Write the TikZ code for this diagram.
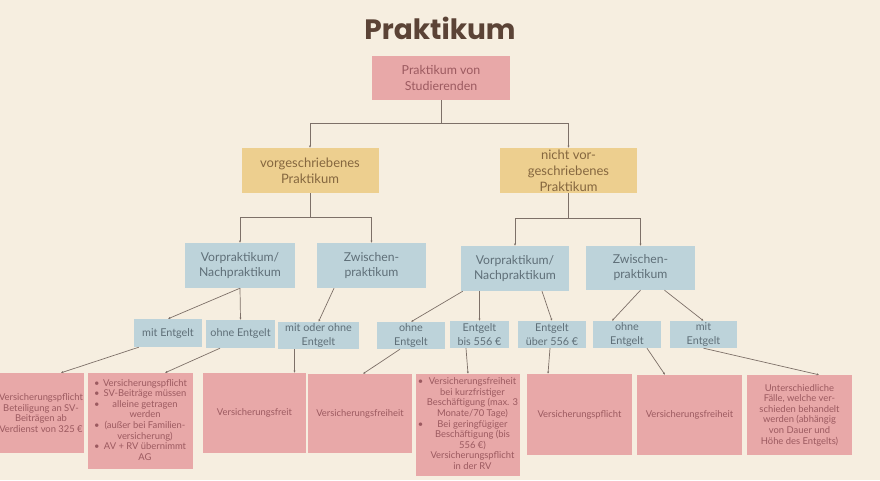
\documentclass[tikz,border=0pt]{standalone}
\usepackage{fontspec}
\setmainfont{Lato}
\newfontfamily\titelfont{Poppins}
\usetikzlibrary{arrows.meta,calc}
\definecolor{creme}{HTML}{F6EEE0}
\definecolor{titelbraun}{HTML}{5B4336}
\definecolor{rosa}{HTML}{E8A8A8}
\definecolor{rosatext}{HTML}{9C5A60}
\definecolor{gelb}{HTML}{EDCF8F}
\definecolor{gelbtext}{HTML}{85673F}
\definecolor{blau}{HTML}{BDD3DA}
\definecolor{blautext}{HTML}{5F6F78}
\definecolor{linie}{HTML}{7D7068}

\tikzset{
  kasten/.style={rectangle,inner sep=1pt,align=center},
  wurzel/.style={kasten,fill=rosa,text=rosatext,font=\fontsize{12.4}{16}\selectfont},
  gelbbox/.style={kasten,fill=gelb,text=gelbtext,font=\fontsize{13}{16}\selectfont},
  blaubox/.style={kasten,fill=blau,text=blautext,font=\fontsize{12.2}{15}\selectfont},
  kleinbox/.style={kasten,fill=blau,text=blautext,font=\fontsize{10.8}{14}\selectfont},
  pinkbox/.style={kasten,fill=rosa,text=rosatext,font=\fontsize{9.4}{10.6}\selectfont},
  verb/.style={draw=linie,line width=0.7pt,-{Latex[length=2.2pt,width=2.2pt]}}
}
\newcommand{\punkt}{\textbullet}

\begin{document}
\begin{tikzpicture}[x=1pt,y=-1pt]
  \fill[creme] (0,0) rectangle (880,480);
  \useasboundingbox (0,0) rectangle (880,480);

  \node[text=titelbraun,font=\titelfont\bfseries\fontsize{28}{30}\selectfont] (titel) at (440,28) {Praktikum};

  % Ebene 0 und 1
  \node[wurzel,minimum width=138pt,minimum height=44pt] (wurzel) at (441,78) {Praktikum von\\Studierenden};
  \node[gelbbox,minimum width=137pt,minimum height=45pt] (vorg) at (310,170.5) {vorgeschriebenes\\Praktikum};
  \node[gelbbox,minimum width=137pt,minimum height=45pt] (nvorg) at (568.5,170.5) {nicht vor-\\geschriebenes\\Praktikum};

  % Ebene 2
  \node[blaubox,minimum width=110pt,minimum height=45pt] (vnL) at (240,265.5) {Vorpraktikum/\\Nachpraktikum};
  \node[blaubox,minimum width=109pt,minimum height=45pt] (zwL) at (371.5,265.5) {Zwischen-\\praktikum};
  \node[blaubox,minimum width=108pt,minimum height=45pt] (vnR) at (515,268.5) {Vorpraktikum/\\Nachpraktikum};
  \node[blaubox,minimum width=109pt,minimum height=44pt] (zwR) at (640.5,268) {Zwischen-\\praktikum};

  % Ebene 3
  \node[kleinbox,minimum width=68pt,minimum height=28pt] (mitA) at (168,333) {mit Entgelt};
  \node[kleinbox,minimum width=69pt,minimum height=28pt] (ohneA) at (240.5,334) {ohne Entgelt};
  \node[kleinbox,minimum width=81pt,minimum height=27pt] (mitohne) at (318.5,335.5) {mit oder ohne\\Entgelt};
  \node[kleinbox,minimum width=68pt,minimum height=27pt] (ohneB) at (411,335.5) {ohne\\Entgelt};
  \node[kleinbox,minimum width=59pt,minimum height=27pt] (bis) at (479.5,334.5) {Entgelt\\bis 556 €};
  \node[kleinbox,minimum width=68pt,minimum height=27pt] (ueber) at (552,334.5) {Entgelt\\über 556 €};
  \node[kleinbox,minimum width=68pt,minimum height=27pt] (ohneC) at (627,334.5) {ohne\\Entgelt};
  \node[kleinbox,minimum width=67pt,minimum height=27pt] (mitC) at (703.5,334.5) {mit\\Entgelt};

  % Ebene 4
  \node[pinkbox,minimum width=86pt,minimum height=80pt] (fall1) at (41,413)
       {Versicherungspflicht\\Beteiligung an SV-\\Beiträgen ab\\Verdienst von 325 €};
  \node[pinkbox,minimum width=105pt,minimum height=96pt] (fall2) at (140.5,421)
       {\begin{tabular}{@{}p{9pt}@{}c@{}}
        \punkt & Versicherungspflicht\\
        \punkt & SV-Beiträge müssen\\
        \punkt & alleine getragen\\
               & werden\\
        \punkt & (außer bei Familien-\\
               & versicherung)\\
        \punkt & AV + RV übernimmt\\
               & AG
        \end{tabular}};
  \node[pinkbox,minimum width=103pt,minimum height=80pt] (fall3) at (254.5,413) {Versicherungsfreit};
  \node[pinkbox,minimum width=104pt,minimum height=79pt] (fall4) at (360,413.5) {Versicherungsfreiheit};
  \node[pinkbox,minimum width=104pt,minimum height=102pt] (fall5) at (468,425)
       {\begin{tabular}{@{}p{9pt}@{}c@{}}
        \punkt & Versicherungsfreiheit\\
               & bei kurzfristiger\\
               & Beschäftigung (max. 3\\
               & Monate/70 Tage)\\
        \punkt & Bei geringfügiger\\
               & Beschäftigung (bis\\
               & 556 €)\\
               & Versicherungspflicht\\
               & in der RV
        \end{tabular}};
  \node[pinkbox,minimum width=105pt,minimum height=81pt] (fall6) at (579.5,414.5) {Versicherungspflicht};
  \node[pinkbox,minimum width=105pt,minimum height=80pt] (fall7) at (689.5,415) {Versicherungsfreiheit};
  \node[pinkbox,minimum width=105pt,minimum height=80pt] (fall8) at (799.5,415)
       {Unterschiedliche\\Fälle, welche ver-\\schieden behandelt\\werden (abhängig\\von Dauer und\\Höhe des Entgelts)};

  % Verbindungen
  \draw[verb] (wurzel.south) -- ++(0,23) -| (vorg.north);
  \draw[verb] (wurzel.south) -- ++(0,23) -| (nvorg.north);
  \draw[verb] (vorg.south) -- ++(0,24) -| (vnL.north);
  \draw[verb] (vorg.south) -- ++(0,24) -| (zwL.north);
  \draw[verb] (nvorg.south) -- ++(0,25) -| (vnR.north);
  \draw[verb] (nvorg.south) -- ++(0,25) -| (zwR.north);

  \draw[verb] (vnL.south) -- (mitA.north);
  \draw[verb] (vnL.south) -- (ohneA.north);
  \draw[verb] ([xshift=-37.5pt]zwL.south) -- (mitohne.north);
  \draw[verb] ([xshift=2pt]vnR.south west) -- (ohneB.north);
  \draw[verb] (bis.north |- vnR.south) -- (bis.north);
  \draw[verb] ([xshift=27pt]vnR.south) -- (ueber.north);
  \draw[verb] (zwR.south) -- ([xshift=-15pt]ohneC.north);
  \draw[verb] ([xshift=24pt]zwR.south) -- (mitC.north);

  \draw[verb] ([xshift=5pt]mitA.south west) -- ([xshift=20pt]fall1.north);
  \draw[verb] ([xshift=-20.5pt]ohneA.south) -- ([xshift=24.5pt]fall2.north);
  \draw[verb] ([xshift=-24pt]mitohne.south) -- ([xshift=-24pt]mitohne.south |- fall3.north);
  \draw[verb] ([xshift=-11pt]ohneB.south) -- ([xshift=3pt]fall4.north);
  \draw[verb] ([xshift=-13.5pt]bis.south) -- (fall5.north);
  \draw[verb] ([xshift=-2pt]ueber.south) -- ([xshift=-31.5pt]fall6.north);
  \draw[verb] ([xshift=20pt]ohneC.south) -- ([xshift=-24.5pt]fall7.north);
  \draw[verb] (mitC.south) -- ([xshift=19.5pt]fall8.north);
\end{tikzpicture}
\end{document}
